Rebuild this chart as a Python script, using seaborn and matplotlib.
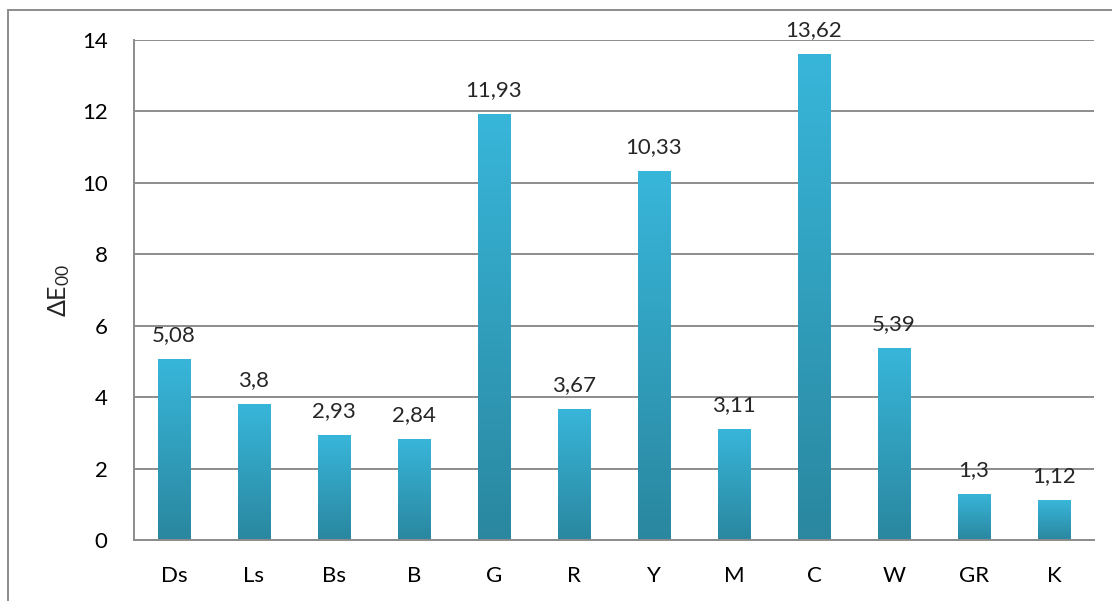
import numpy as np
import pandas as pd
import seaborn as sns
import matplotlib.pyplot as plt
from matplotlib.patches import Rectangle
from matplotlib.colors import LinearSegmentedColormap

categories = ["Ds", "Ls", "Bs", "B", "G", "R", "Y", "M", "C", "W", "GR", "K"]
values = [5.08, 3.8, 2.93, 2.84, 11.93, 3.67, 10.33, 3.11, 13.62, 5.39, 1.3, 1.12]
value_labels = ["5,08", "3,8", "2,93", "2,84", "11,93", "3,67", "10,33", "3,11", "13,62", "5,39", "1,3", "1,12"]
y_ticks = [0, 2, 4, 6, 8, 10, 12, 14]

sns.set_style("white")
plt.rcParams['font.family'] = ['Lato', 'DejaVu Sans']
plt.rcParams['mathtext.fontset'] = 'custom'
plt.rcParams['mathtext.rm'] = 'Lato'
plt.rcParams['mathtext.it'] = 'Lato'

df = pd.DataFrame({"cat": categories, "val": values})

fig = plt.figure(figsize=(11.12, 6.01), dpi=100)
ax = fig.add_axes([0.1205, 0.1015, 0.8633, 0.8319])
sns.barplot(data=df, x="cat", y="val", ax=ax, width=0.41, color="#33a9cc")

grey = "#8c8c8c"
fs = 16
ax.set_ylim(0, 14)
ax.set_xlim(-0.5, len(categories) - 0.5)
ax.set_yticks(y_ticks)
ax.yaxis.grid(True, color=grey, linewidth=1.4)
ax.set_axisbelow(True)
for s in ["top", "right"]:
    ax.spines[s].set_visible(False)
for s in ["left", "bottom"]:
    ax.spines[s].set_color(grey)
    ax.spines[s].set_linewidth(1.4)
ax.tick_params(axis="y", length=0, pad=19, labelsize=fs, labelcolor="black")
ax.tick_params(axis="x", length=0, pad=19, labelsize=fs, labelcolor="black")
ax.set_xlabel("")
ax.set_ylabel(r"$\Delta$E$_{00}$", fontsize=18, labelpad=7)

# vertical gradient fill on each bar
cmap = LinearSegmentedColormap.from_list("bar", ["#2a879f", "#38b6da"])
grad = np.linspace(0, 1, 256).reshape(-1, 1)
for patch in ax.patches:
    x0, y0 = patch.get_x(), patch.get_y()
    w, h = patch.get_width(), patch.get_height()
    im = ax.imshow(grad, cmap=cmap, origin="lower", aspect="auto",
                   extent=[x0, x0 + w, y0, y0 + h], zorder=patch.get_zorder())
    im.set_clip_path(patch)
    patch.set_facecolor("none")
    patch.set_edgecolor("none")
ax.set_xlim(-0.5, len(categories) - 0.5)
ax.set_ylim(0, 14)

for i, (v, lab) in enumerate(zip(values, value_labels)):
    ax.annotate(lab, (i, v), xytext=(0, 10), textcoords="offset points",
                ha="center", va="bottom", fontsize=fs, annotation_clip=False)

# outer chart border
fig.patches.append(Rectangle((8 / 1112, -0.1), 1.2, (601 - 10) / 601 + 0.1,
                             transform=fig.transFigure, fill=False,
                             edgecolor=grey, linewidth=1.4))

fig.savefig("out.png", dpi=100)
